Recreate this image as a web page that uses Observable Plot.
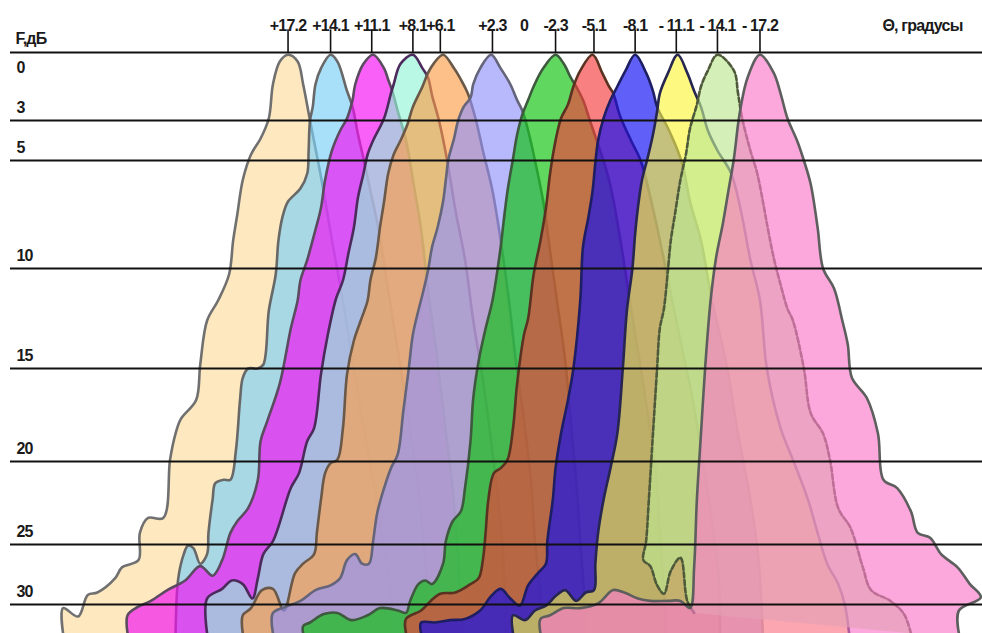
<!DOCTYPE html>
<html>
<head>
<meta charset="utf-8">
<script src="https://cdn.jsdelivr.net/npm/d3@7"></script>
<script src="https://cdn.jsdelivr.net/npm/@observablehq/plot@0.6"></script>
<style>
  html, body { margin: 0; padding: 0; background: #fff; }
  #chart svg { display: block; }
</style>
</head>
<body>
<div id="chart"></div>
<script>
// Beam directions (degrees) and the angle labels along the top
const beamAngles = [17.2, 14.1, 11.1, 8.1, 6.1, 2.3, -2.3, -5.1, -8.1, -11.1, -14.1, -17.2];
const angleTicks = [17.2, 14.1, 11.1, 8.1, 6.1, 2.3, 0, -2.3, -5.1, -8.1, -11.1, -14.1, -17.2];
const angleLabels = ["+17.2", "+14.1", "+11.1", "+8.1", "+6.1", "+2.3", "0", "-2.3", "-5.1", "-8.1", "- 11.1", "- 14.1", "- 17.2"];

// Attenuation levels, dB
const levelsDb = [0, 3, 5, 10, 15, 20, 25, 30];

// Beam pattern outlines: [angle in degrees, attenuation in dB],
// left edge from the bottom up to the peak, then the right edge down.
const beamP172 = [[33.6,32.4],[33.6,30.3],[32.5,31.0],[31.8,29.2],[31.1,29.0],[29.8,27.8],[29.3,26.9],[28.1,26.3],[28.0,24.3],[27.4,23.4],[26.3,23.4],[25.8,19.9],[25.4,18.5],[25.0,17.7],[23.9,16.7],[23.6,14.8],[23.1,12.6],[22.3,11.6],[21.5,10.3],[21.2,8.7],[20.9,7.5],[20.5,5.9],[19.9,4.7],[19.2,3.9],[18.6,2.9],[18.3,1.4],[17.8,0.4],[17.2,0.1],[16.5,0.4],[16.1,1.4],[15.6,3.0],[14.7,6.1],[14.0,8.7],[13.2,11.6],[12.5,14.6],[11.8,17.8],[11.0,21.1],[10.3,24.8],[9.6,29.7],[9.4,32.4]];
const beamP141 = [[25.4,32.4],[25.2,27.8],[24.8,25.8],[24.5,25.1],[24.1,25.3],[23.6,26.6],[23.1,25.8],[23.0,24.3],[22.7,22.3],[22.5,21.3],[21.9,21.1],[21.4,21.1],[21.0,19.4],[20.7,16.7],[20.5,15.5],[20.1,15.0],[19.4,15.0],[19.0,14.8],[18.6,12.1],[18.1,10.3],[17.9,8.7],[17.6,7.6],[17.2,6.9],[16.3,6.3],[15.8,5.6],[15.7,4.5],[15.6,3.0],[15.4,2.4],[15.2,1.4],[14.8,0.7],[14.1,0.1],[13.6,0.4],[12.9,1.7],[12.5,2.4],[12.1,3.7],[11.7,4.9],[11.2,6.4],[10.6,8.2],[9.9,11.1],[9.2,14.1],[8.4,17.8],[7.7,21.7],[7.2,26.3],[6.8,32.4]];
const beamP111 = [[28.9,32.4],[28.9,30.9],[28.3,30.3],[27.2,29.7],[26.0,28.8],[24.7,28.0],[23.6,26.8],[22.7,27.6],[22.0,26.3],[21.4,24.3],[20.9,23.6],[20.1,22.8],[19.4,21.1],[19.2,18.9],[18.7,17.8],[17.8,15.8],[17.0,13.0],[16.5,11.6],[16.3,10.6],[15.8,9.6],[15.2,8.2],[14.8,7.2],[14.5,5.9],[14.0,4.5],[13.4,3.5],[12.9,2.9],[12.5,2.1],[12.3,1.4],[11.7,0.5],[11.0,0.1],[10.2,0.7],[9.9,1.2],[9.6,1.7],[9.2,2.6],[8.6,4.0],[8.1,5.9],[7.5,8.2],[7.0,11.1],[6.4,14.1],[5.8,17.8],[5.2,21.7],[4.8,26.3],[4.5,32.4]];
const beamP81 = [[23.1,32.4],[23.1,29.5],[22.0,28.7],[21.3,28.0],[20.5,28.3],[19.8,29.5],[19.4,27.8],[19.0,25.8],[18.3,24.8],[17.0,21.6],[16.4,20.7],[15.8,18.9],[15.3,18.2],[14.8,15.3],[14.3,13.3],[13.7,11.5],[13.2,10.6],[12.8,9.3],[12.4,8.1],[12.1,6.7],[11.7,5.6],[11.4,4.7],[11.0,4.0],[10.2,2.9],[9.7,1.8],[9.5,1.4],[9.0,0.5],[8.1,0.1],[7.4,0.7],[7.0,1.1],[6.7,1.9],[6.2,3.0],[5.6,5.0],[5.0,7.3],[4.3,9.6],[3.7,12.6],[3.0,15.6],[2.4,18.9],[1.9,22.3],[1.5,26.3],[1.3,32.4]];
const beamP61 = [[20.5,32.4],[20.5,30.9],[19.9,30.3],[19.1,28.8],[18.3,28.7],[17.5,30.5],[16.7,27.4],[16.1,26.6],[15.3,25.8],[15.1,24.3],[14.8,22.3],[14.5,20.7],[14.1,20.1],[13.6,19.9],[13.2,18.2],[12.9,15.3],[12.4,13.6],[11.9,12.6],[11.4,11.6],[11.2,10.6],[10.8,9.5],[10.5,8.1],[10.2,6.9],[9.9,5.6],[9.5,4.7],[9.0,4.0],[8.5,3.2],[8.1,2.4],[7.4,1.5],[7.0,0.9],[6.6,0.5],[5.9,0.1],[5.1,0.7],[4.6,1.2],[4.1,1.8],[3.5,3.0],[3.0,4.5],[2.3,6.4],[1.7,8.7],[1.1,11.6],[0.6,14.6],[0.0,17.8],[-0.5,21.1],[-0.8,24.8],[-1.2,29.7],[-1.2,32.4]];
const beamP23 = [[18.3,32.4],[18.3,30.7],[17.4,30.2],[16.3,29.7],[15.2,28.8],[14.1,28.4],[13.4,27.8],[12.9,26.3],[12.3,25.8],[11.8,26.6],[11.3,26.6],[11.0,24.8],[10.7,23.1],[10.2,21.6],[9.7,20.4],[9.2,19.6],[8.8,17.3],[8.4,15.0],[8.1,13.3],[7.7,12.1],[7.4,11.3],[7.0,10.1],[6.7,9.0],[6.3,8.1],[5.9,6.9],[5.7,5.9],[5.5,4.9],[5.1,3.9],[4.8,3.0],[4.4,2.4],[3.9,2.0],[3.7,1.4],[3.2,0.7],[2.4,0.1],[1.7,0.7],[1.0,1.4],[0.5,2.1],[0.1,2.6],[-0.3,3.5],[-0.8,5.0],[-1.4,6.9],[-1.9,9.2],[-2.4,11.6],[-3.0,14.6],[-3.4,17.8],[-3.8,21.1],[-4.1,24.8],[-4.4,29.7],[-4.4,32.4]];
const beamM23 = [[16.1,32.4],[16.1,31.8],[15.6,31.5],[14.6,30.8],[13.6,30.7],[12.6,31.3],[11.4,30.9],[10.5,30.3],[9.2,30.5],[8.6,30.7],[8.3,29.7],[7.7,28.3],[7.2,28.0],[6.7,28.3],[5.9,26.6],[5.7,24.8],[5.2,23.6],[4.6,23.0],[4.3,21.6],[3.9,18.9],[3.7,16.6],[3.3,14.6],[2.8,13.0],[2.3,11.6],[1.7,9.0],[1.5,7.9],[1.2,6.4],[0.8,4.9],[0.5,3.7],[0.1,2.7],[-0.3,2.1],[-0.7,1.5],[-1.4,0.7],[-2.3,0.1],[-2.9,0.5],[-3.4,1.1],[-3.8,1.5],[-4.3,2.1],[-4.8,3.0],[-5.4,4.2],[-6.2,5.9],[-6.9,8.2],[-7.6,11.1],[-8.3,14.1],[-9.0,17.3],[-9.6,20.5],[-9.9,24.2],[-10.2,28.8],[-10.3,32.4]];
const beamM51 = [[8.6,32.4],[8.6,31.2],[7.5,30.5],[6.8,29.7],[6.1,29.1],[5.0,29.0],[3.9,28.3],[3.3,27.8],[3.0,26.3],[2.8,24.3],[2.6,22.3],[2.2,20.7],[1.7,20.4],[1.2,19.9],[0.8,18.2],[0.5,15.8],[0.0,13.3],[-0.3,12.5],[-0.7,10.3],[-1.2,8.7],[-1.6,7.2],[-1.9,5.6],[-2.3,4.0],[-2.7,2.9],[-3.2,2.3],[-3.6,1.5],[-4.1,0.8],[-5.0,0.1],[-5.7,0.9],[-6.2,1.5],[-6.5,1.8],[-7.0,2.8],[-7.8,4.0],[-8.5,5.0],[-9.6,7.8],[-10.5,10.6],[-11.4,13.6],[-12.3,16.7],[-13.0,19.9],[-13.7,23.6],[-14.2,28.0],[-14.3,32.4]];
const beamM81 = [[7.5,32.4],[7.5,31.5],[6.5,31.5],[5.4,31.3],[4.3,31.2],[3.2,30.5],[2.4,29.3],[1.7,28.7],[1.0,29.5],[0.3,30.1],[-0.3,28.4],[-1.0,27.4],[-1.6,26.6],[-1.7,24.8],[-2.1,22.3],[-2.3,20.4],[-2.7,18.5],[-3.2,16.7],[-3.6,15.0],[-4.1,11.6],[-4.3,9.0],[-4.7,7.6],[-5.0,6.4],[-5.2,5.1],[-5.4,4.0],[-5.8,2.9],[-6.3,2.1],[-6.8,1.5],[-7.4,0.8],[-8.1,0.1],[-8.9,0.9],[-9.4,1.7],[-9.7,2.4],[-10.5,3.4],[-11.2,4.5],[-11.6,5.3],[-12.1,6.9],[-12.9,8.7],[-13.7,11.6],[-14.7,14.6],[-15.6,18.5],[-16.5,22.3],[-17.1,26.3],[-17.4,32.4]];
const beamM111 = [[0.8,32.4],[0.8,30.9],[-0.1,31.3],[-0.8,30.5],[-1.6,30.1],[-2.3,29.3],[-3.0,28.8],[-3.8,29.7],[-4.5,29.0],[-5.1,28.8],[-5.2,26.6],[-5.4,24.3],[-5.8,22.3],[-6.3,20.4],[-6.8,18.5],[-7.2,15.0],[-7.5,12.1],[-7.9,10.0],[-8.1,8.4],[-8.3,7.2],[-8.6,5.9],[-9.0,4.9],[-9.4,3.7],[-9.7,2.6],[-9.9,1.8],[-10.5,0.9],[-11.2,0.1],[-11.9,0.9],[-12.4,1.7],[-12.9,2.4],[-13.4,3.5],[-14.1,4.5],[-15.1,5.6],[-15.8,7.3],[-16.5,9.6],[-17.2,11.6],[-17.7,15.0],[-18.7,18.2],[-19.6,19.9],[-20.7,22.3],[-21.4,24.3],[-22.1,26.6],[-22.9,28.3],[-23.4,30.1],[-23.7,32.4]];
const beamM141 = [[-12.4,30.7],[-11.9,29.7],[-11.4,26.1],[-10.7,27.2],[-10.2,29.1],[-9.7,28.4],[-9.2,26.8],[-8.7,26.3],[-8.9,24.8],[-9.1,22.3],[-9.4,18.5],[-9.7,15.0],[-9.9,13.0],[-10.2,12.0],[-10.5,10.0],[-10.7,8.7],[-11.0,7.5],[-11.4,5.9],[-11.8,4.7],[-12.1,3.4],[-12.6,2.3],[-12.9,1.5],[-13.4,0.8],[-14.1,0.1],[-15.3,0.8],[-15.6,1.8],[-15.9,2.9],[-16.5,4.5],[-17.0,5.6],[-17.5,7.2],[-17.7,7.9],[-18.2,9.5],[-18.7,10.8],[-19.2,12.0],[-19.6,12.6],[-20.4,15.0],[-20.9,17.4],[-21.8,18.5],[-22.3,19.9],[-22.9,22.8],[-23.8,24.0],[-24.7,26.9],[-25.3,28.8],[-26.7,29.7],[-27.7,30.8],[-28.2,32.4]];
const beamM172 = [[-1.2,32.4],[-1.2,31.2],[-1.9,30.9],[-2.9,30.3],[-4.1,30.3],[-5.4,29.9],[-6.5,28.8],[-7.3,29.0],[-8.3,29.5],[-9.2,29.7],[-10.5,29.7],[-11.4,29.7],[-12.1,30.3],[-12.4,26.9],[-12.6,22.3],[-12.9,18.5],[-13.2,15.0],[-13.6,11.6],[-14.0,9.5],[-14.5,7.9],[-14.9,6.4],[-15.3,4.9],[-15.6,3.2],[-15.8,2.4],[-16.3,1.1],[-17.2,0.1],[-18.2,0.9],[-18.7,1.8],[-19.2,2.9],[-19.9,4.0],[-20.4,5.0],[-20.9,6.1],[-21.4,8.1],[-21.8,10.0],[-22.6,11.0],[-23.2,12.6],[-23.6,13.8],[-23.9,15.5],[-25.0,16.6],[-25.8,18.5],[-26.2,21.1],[-27.2,21.6],[-28.2,23.0],[-28.7,24.3],[-29.6,24.6],[-30.4,25.8],[-31.6,26.9],[-32.5,28.3],[-33.3,29.4],[-31.7,30.5],[-31.7,32.4]];

const beamOutlines = [beamP172, beamP141, beamP111, beamP81, beamP61, beamP23, beamM23, beamM51, beamM81, beamM111, beamM141, beamM172];

// Fill and outline colours for each beam, drawn in order so later beams lie on top
const fills = ["#fcdc9d", "#79cff7", "#f40af4", "#92f4d5", "#fa9e48", "#9292fa", "#0ac30a", "#f43c3c", "#0a0af4", "#faf43c", "#bde892", "#fa79c9"];
const outlines = ["#707070", "#686868", "#5c4a60", "#4c2a5c", "#6a5848", "#64647a", "#3e5a3e", "#5a3222", "#1e1e64", "#262650", "#4e5a3a", "#5e5e5e"];

const beamMarks = beamOutlines.map((pts, i) =>
  Plot.line(pts, {
    x: d => d[0],
    y: d => d[1],
    fill: fills[i],
    fillOpacity: 0.65,
    stroke: outlines[i],
    strokeWidth: 2.6,
    strokeDasharray: i === 10 ? "5,2.5" : undefined,
    curve: "catmull-rom"
  })
);

const textStyle = {fill: "#1a1a1a", fontSize: 16, fontWeight: "bold", lineAnchor: "middle"};

const chart = Plot.plot({
  width: 982,
  height: 633,
  margin: 0,
  style: {
    fontFamily: "'Liberation Sans', Arial, sans-serif",
    fontSize: "16px",
    letterSpacing: "-0.8px",
    color: "#1a1a1a",
    background: "#fff"
  },
  x: {domain: [38.16, -33.42], range: [0, 982], axis: null},
  y: {type: "linear", domain: [0, 3, 5, 10, 15, 20, 25, 30, 33], range: [52, 120, 160, 268, 368, 461, 544, 604, 640], axis: null},
  marks: [
    ...beamMarks,
    Plot.ruleY(levelsDb, {y: d => d, insetLeft: 10, stroke: "#111", strokeWidth: 2}),
    Plot.ruleX(beamAngles, {x: d => d, y1: -1, y2: 0, stroke: "#111", strokeWidth: 1.6}),
    Plot.text(angleTicks, {x: d => d, text: (d, i) => angleLabels[i], frameAnchor: "top", dy: 25, ...textStyle}),
    Plot.text(["Θ, градусы"], {text: d => d, frameAnchor: "top-right", dx: -20, dy: 25, textAnchor: "end", ...textStyle}),
    Plot.text(["F,дБ"], {text: d => d, frameAnchor: "top-left", dx: 15, dy: 38, textAnchor: "start", ...textStyle}),
    Plot.text(levelsDb.filter(v => v > 0), {y: d => d, text: d => String(d), frameAnchor: "left", dx: 16, dy: -13, textAnchor: "start", ...textStyle}),
    Plot.text(levelsDb.filter(v => v === 0), {y: d => d, text: d => String(d), frameAnchor: "left", dx: 16, dy: 15, textAnchor: "start", ...textStyle})
  ]
});

document.getElementById("chart").appendChild(chart);
</script>
</body>
</html>
